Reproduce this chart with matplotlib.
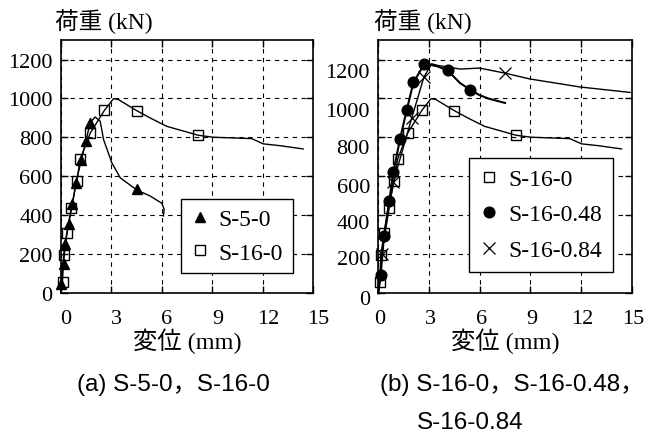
import matplotlib
matplotlib.use("Agg")
import matplotlib.pyplot as plt
from matplotlib.transforms import ScaledTranslation

serif = ['Liberation Serif', 'Noto Sans CJK JP']
sans = ['Liberation Sans', 'Noto Sans CJK JP']
plt.rcParams['font.family'] = serif

# S-5-0
s5_line_x = [0, 0.01, 0.15, 0.25, 0.45, 0.68, 0.88, 1.2, 1.48, 1.73, 2.03, 2.33, 2.53, 3.02, 3.52, 4.51, 5.31, 6.0, 6.13, 6.09]
s5_line_y = [0, 48, 150, 252, 354, 457, 564, 683, 781, 875, 905, 883, 789, 670, 593, 530, 499, 462, 431, 397]
s5_mark_x = [0.01, 0.15, 0.25, 0.45, 0.68, 0.88, 1.2, 1.48, 1.73, 4.51]
s5_mark_y = [48, 150, 252, 354, 457, 564, 683, 781, 875, 534]

# S-16-0
s16_line_x = [0, 0.09, 0.15, 0.35, 0.61, 0.94, 1.14, 1.74, 2.58, 3.12, 3.4, 4.51, 5.3, 6.29, 8.17, 9.06, 11.34, 12.03, 13.0, 14.4]
s16_line_y = [0, 59, 197, 312, 440, 576, 687, 823, 939, 999, 995, 937, 900, 857, 811, 801, 794, 767, 758, 741]
s16_mark_x = [0.09, 0.15, 0.35, 0.61, 0.94, 1.14, 1.74, 2.58, 4.51, 8.17]
s16_mark_y = [59, 197, 312, 440, 576, 687, 823, 939, 937, 811]

# S-16-0.48
s48_line_x = [0, 0.14, 0.34, 0.65, 0.89, 1.29, 1.69, 2.08, 2.73, 3.07, 3.5, 4.1, 4.84, 5.44, 5.95, 6.5, 7.5]
s48_line_y = [0, 94, 295, 474, 622, 793, 943, 1082, 1178, 1173, 1165, 1144, 1079, 1045, 1019, 1000, 977]
s48_mark_x = [0.14, 0.34, 0.65, 0.89, 1.29, 1.69, 2.08, 2.73, 4.1, 5.44]
s48_mark_y = [94, 295, 474, 622, 793, 943, 1082, 1178, 1144, 1045]

# S-16-0.84
s84_line_x = [0, 0.2, 0.89, 1.98, 2.7, 3.16, 3.5, 4.84, 6.0, 7.5, 8.98, 11.94, 14.9]
s84_line_y = [0, 201, 570, 900, 1110, 1178, 1170, 1151, 1156, 1130, 1100, 1059, 1031]
s84_mark_x = [0.2, 0.89, 1.98, 2.7, 7.5]
s84_mark_y = [201, 570, 900, 1110, 1130]

xticks = [0, 3, 6, 9, 12, 15]
yticks = [0, 200, 400, 600, 800, 1000, 1200]

fig = plt.figure(figsize=(6.45, 4.35), dpi=100)
axa = fig.add_axes([0.0946, 0.3234, 0.3911, 0.5823])
axb = fig.add_axes([0.5865, 0.3234, 0.3929, 0.5823])


def style(ax, xoff, yoffs):
    ax.set_xlim(0, 15)
    ax.set_ylim(0, 1300)
    ax.set_xticks(xticks)
    ax.set_yticks(yticks)
    ax.grid(True, color='black', linestyle=(0, (4, 4)), linewidth=0.8)
    ax.tick_params(direction='in', length=5, width=1, top=True, right=True,
                   labelsize=16)
    ax.tick_params(axis='x', pad=11)
    ax.tick_params(axis='y', pad=6)
    for sp in ax.spines.values():
        sp.set_linewidth(1.2)
    for lab in ax.get_xticklabels():
        lab.set_transform(lab.get_transform() + ScaledTranslation(xoff / 72, 0, fig.dpi_scale_trans))
    for lab, dy in zip(ax.get_yticklabels(), yoffs):
        lab.set_transform(lab.get_transform() + ScaledTranslation(0, -dy / 72, fig.dpi_scale_trans))
    ax.set_xlabel('変位 (mm)', fontsize=17.5, labelpad=0)


def plot16(ax):
    ax.plot(s16_line_x, s16_line_y, color='black', lw=1.0, clip_on=False)
    h, = ax.plot(s16_mark_x, s16_mark_y, 's', ms=7.5, mfc='none', mec='black',
                 mew=1.0, clip_on=False, label='S-16-0')
    return h


# (a)
axa.plot(s5_line_x, s5_line_y, color='black', lw=1.0, clip_on=False)
ha1, = axa.plot(s5_mark_x, s5_mark_y, '^', ms=7.5, color='black',
                clip_on=False, label='S-5-0')
ha2 = plot16(axa)
style(axa, 3.6, [0, 0, 0, 0, 0, 0, 0])
axa.legend(handles=[ha1, ha2], loc='lower right', bbox_to_anchor=(0.918, 0.08),
           fontsize=17, frameon=True, fancybox=False, framealpha=1,
           edgecolor='black', handlelength=0.8, handletextpad=0.4,
           labelspacing=0.5, borderpad=0.4, borderaxespad=0).get_frame().set_linewidth(1.0)

# (b)
hb1 = plot16(axb)
axb.plot(s48_line_x, s48_line_y, color='black', lw=1.5, clip_on=False)
hb2, = axb.plot(s48_mark_x, s48_mark_y, 'o', ms=7.7, color='black',
                clip_on=False, label='S-16-0.48')
axb.plot(s84_line_x, s84_line_y, color='black', lw=1.0, clip_on=False)
hb3, = axb.plot(s84_mark_x, s84_mark_y, 'x', ms=8, color='black', mew=0.9,
                clip_on=False, label='S-16-0.84')
style(axb, 1.2, [3, 2, 4, 6, 6.5, 7.5, 7.5])
axb.legend(handles=[hb1, hb2, hb3], loc='lower right', bbox_to_anchor=(0.925, 0.085),
           fontsize=17, frameon=True, fancybox=False, framealpha=1,
           edgecolor='black', handlelength=0.8, handletextpad=0.4,
           labelspacing=0.6, borderpad=0.45, borderaxespad=0).get_frame().set_linewidth(1.0)

# y axis titles above the plots
fig.text(104 / 645, 1 - 22 / 435, '荷重 (kN)', ha='center', va='center', fontsize=17)
fig.text(423 / 645, 1 - 22 / 435, '荷重 (kN)', ha='center', va='center', fontsize=17)

# captions
fig.text(77 / 645, 1 - 385 / 435, '(a) S-5-0，S-16-0', ha='left', va='center',
         fontsize=17.5, family=sans)
fig.text(380 / 645, 1 - 385 / 435, '(b) S-16-0，S-16-0.48，', ha='left', va='center',
         fontsize=17.5, family=sans)
fig.text(417 / 645, 1 - 423 / 435, 'S-16-0.84', ha='left', va='center',
         fontsize=17.5, family=sans)

fig.savefig('out.png', dpi=100)
